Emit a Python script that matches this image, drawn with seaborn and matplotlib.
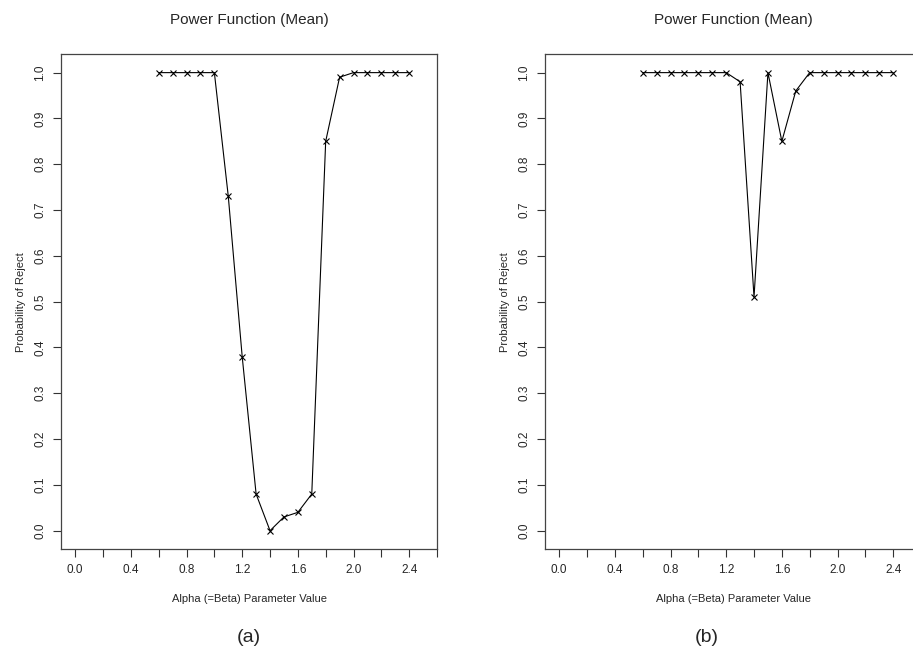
import matplotlib
matplotlib.use("Agg")
import matplotlib.pyplot as plt
import numpy as np
import pandas as pd
import seaborn as sns

# parameter values (alpha = beta)
alpha = [0.6, 0.7, 0.8, 0.9, 1.0, 1.1, 1.2, 1.3, 1.4, 1.5,
         1.6, 1.7, 1.8, 1.9, 2.0, 2.1, 2.2, 2.3, 2.4]

# probability of reject, panel (a)
power_a = [1.0, 1.0, 1.0, 1.0, 1.0, 0.73, 0.38, 0.08, 0.0, 0.03,
           0.04, 0.08, 0.85, 0.99, 1.0, 1.0, 1.0, 1.0, 1.0]

# probability of reject, panel (b)
power_b = [1.0, 1.0, 1.0, 1.0, 1.0, 1.0, 1.0, 0.98, 0.51, 1.0,
           0.85, 0.96, 1.0, 1.0, 1.0, 1.0, 1.0, 1.0, 1.0]

panel_labels = ["(a)", "(b)"]
title = "Power Function (Mean)"
xlabel = "Alpha (=Beta) Parameter Value"
ylabel = "Probability of Reject"

sns.set_style("white")
plt.rcParams["font.family"] = ["Liberation Sans", "DejaVu Sans"]

W, H = 913, 656
fig = plt.figure(figsize=(W / 100, H / 100), dpi=100)


def box(left, right, top, bottom):
    return [left / W, 1 - bottom / H, (right - left) / W, (bottom - top) / H]


axes = [
    fig.add_axes(box(61.3, 437.0, 54.3, 549.0)),
    fig.add_axes(box(545.3, 921.0, 54.3, 549.0)),
]
label_x = [249, 707]

for ax, power, lab, lx in zip(axes, [power_a, power_b], panel_labels, label_x):
    df = pd.DataFrame({"alpha": alpha, "power": power})
    sns.lineplot(
        data=df, x="alpha", y="power", ax=ax, color="black",
        linewidth=0.8, marker="x", markersize=5, markeredgewidth=0.8,
        markeredgecolor="black",
    )
    ax.set_xlim(-0.1, 2.6)
    ax.set_ylim(-0.04, 1.04)
    ticks = np.arange(0, 2.61, 0.2)
    ax.set_xticks(ticks)
    ax.set_xticklabels(["%.1f" % v if i % 2 == 0 else "" for i, v in enumerate(ticks)])
    ax.set_yticks(np.arange(0, 1.01, 0.1))
    ax.set_yticklabels(["%.1f" % v for v in np.arange(0, 1.01, 0.1)],
                       rotation=90, va="center")
    ax.tick_params(axis="both", direction="out", length=6, width=0.8,
                   color="#333333", labelsize=8.5, pad=5, left=True,
                   bottom=True)
    for sp in ax.spines.values():
        sp.set_color("#444444")
        sp.set_linewidth(0.9)
    ax.set_title(title, fontsize=11, pad=22)
    ax.set_xlabel(xlabel, fontsize=8, labelpad=13)
    ax.set_ylabel(ylabel, fontsize=8, labelpad=6)
    fig.text(lx / W, 1 - 637 / H, lab, fontsize=14, ha="center", va="center")

fig.savefig("out.png", dpi=100)
